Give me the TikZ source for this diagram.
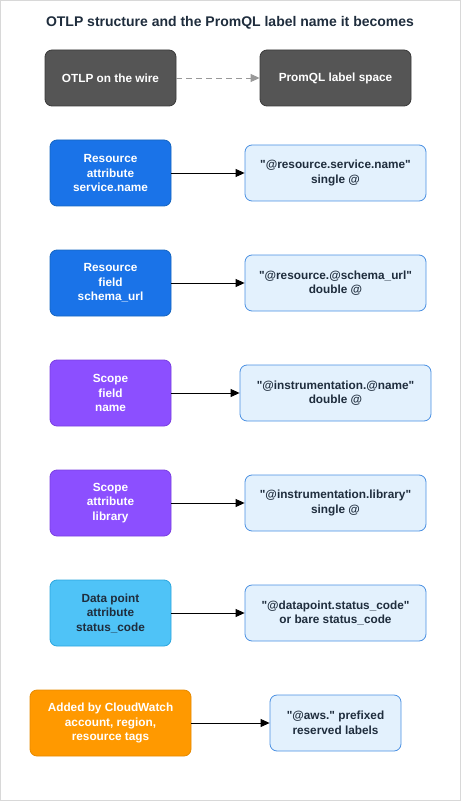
\documentclass[tikz,border=0pt]{standalone}
\usepackage{fontspec}
\setmainfont{Liberation Sans}[Ligatures=TeXOff]
\usetikzlibrary{arrows.meta}
\definecolor{darkbox}{HTML}{555555}
\definecolor{darkedge}{HTML}{3A3A3A}
\definecolor{resblue}{HTML}{1A73E8}
\definecolor{resedge}{HTML}{1565C0}
\definecolor{scopep}{HTML}{8C4FFF}
\definecolor{scopeedge}{HTML}{7A3FE0}
\definecolor{dpblue}{HTML}{4FC3F7}
\definecolor{dpedge}{HTML}{2BA6DE}
\definecolor{orng}{HTML}{FF9900}
\definecolor{orngedge}{HTML}{E68A00}
\definecolor{tgtfill}{HTML}{E3F1FD}
\definecolor{tgtedge}{HTML}{4A90E2}
\definecolor{txtdark}{HTML}{1F2D3D}
\definecolor{frame}{HTML}{D8D8D8}
\begin{document}
\begin{tikzpicture}[x=1pt,y=-1pt,
  box/.style={rounded corners=7pt, line width=0.8pt, font=\bfseries\fontsize{11.8}{14.5}\selectfont, align=center, inner sep=0pt},
  srcbox/.style={box, minimum width=121pt, minimum height=66pt},
  tgtbox/.style={box, fill=tgtfill, draw=tgtedge, text=txtdark, minimum height=56pt},
  res/.style={srcbox, fill=resblue, draw=resedge, text=white},
  scp/.style={srcbox, fill=scopep, draw=scopeedge, text=white},
  conn/.style={-{Triangle[length=9pt,width=8pt]}, line width=0.9pt, black}
]
\useasboundingbox (0,0) rectangle (462,802);
\draw[frame, line width=1pt] (0.5,0.5) rectangle (460.5,800.5);
\node[font=\bfseries\fontsize{14}{16}\selectfont, text=txtdark] (title) at (230,23) {OTLP structure and the PromQL label name it becomes};

\node[box, fill=darkbox, draw=darkedge, text=white, minimum width=131pt, minimum height=56pt] (wire) at (110.5,78) {OTLP on the wire};
\node[box, fill=darkbox, draw=darkedge, text=white, minimum width=151pt, minimum height=56pt] (space) at (335.5,78) {PromQL label space};
\draw[-{Triangle[length=9pt,width=8pt]}, line width=0.9pt, gray!80, dash pattern=on 6pt off 4pt] (wire) -- (space);

\node[res] (r1) at (110.5,173) {Resource\\attribute\\service.name};
\node[tgtbox, minimum width=181pt] (t1) at (335.5,173) {"@resource.service.name"\\single @};
\draw[conn] (r1) -- (t1);

\node[res] (r2) at (110.5,283) {Resource\\field\\schema\_url};
\node[tgtbox, minimum width=181pt] (t2) at (335.5,283) {"@resource.@schema\_url"\\double @};
\draw[conn] (r2) -- (t2);

\node[scp] (s1) at (110.5,393) {Scope\\field\\name};
\node[tgtbox, minimum width=191pt] (t3) at (335.5,393) {"@instrumentation.@name"\\double @};
\draw[conn] (s1) -- (t3);

\node[scp] (s2) at (110.5,503) {Scope\\attribute\\library};
\node[tgtbox, minimum width=181pt] (t4) at (335.5,503) {"@instrumentation.library"\\single @};
\draw[conn] (s2) -- (t4);

\node[srcbox, fill=dpblue, draw=dpedge, text=txtdark] (d1) at (110.5,613) {Data point\\attribute\\status\_code};
\node[tgtbox, minimum width=181pt] (t5) at (335.5,613) {"@datapoint.status\_code"\\or bare status\_code};
\draw[conn] (d1) -- (t5);

\node[box, fill=orng, draw=orngedge, text=white, minimum width=161pt, minimum height=66pt] (a1) at (110.5,723) {Added by CloudWatch\\account, region,\\resource tags};
\node[tgtbox, minimum width=131pt] (t6) at (335.5,723) {"@aws." prefixed\\reserved labels};
\draw[conn] (a1) -- (t6);
\end{tikzpicture}
\end{document}
